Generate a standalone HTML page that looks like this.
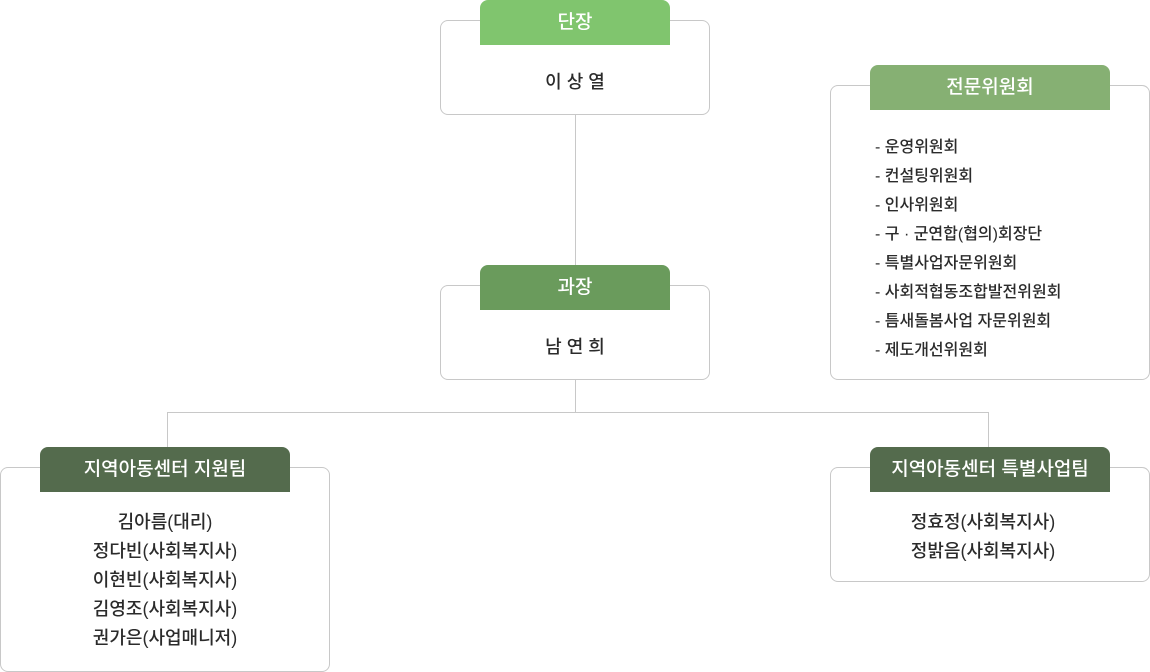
<!DOCTYPE html>
<html><head><meta charset="utf-8"><style>
body{margin:0;width:1150px;height:672px;background:#fff;position:relative;overflow:hidden;font-family:"Liberation Sans","Noto Sans CJK KR",sans-serif;color:#333;font-weight:500}
.box{position:absolute;border:1px solid #c8c8c8;border-radius:8px;box-sizing:border-box;background:#fff}
.tab{position:absolute;color:#fff;font-size:19px;text-align:center;line-height:45px;height:45px;border-radius:8px 8px 0 0;font-weight:500}
.ln{position:absolute;background:#c8c8c8}
.t{position:absolute;text-align:center;font-size:18px;color:#2b2b2b}
</style></head><body>
<div class="ln" style="left:575px;top:114px;width:1px;height:171px"></div>
<div class="ln" style="left:575px;top:379px;width:1px;height:34px"></div>
<div class="ln" style="left:167px;top:412px;width:822px;height:1px"></div>
<div class="ln" style="left:167px;top:412px;width:1px;height:40px"></div>
<div class="ln" style="left:988px;top:412px;width:1px;height:40px"></div>

<div class="box" style="left:440px;top:20px;width:270px;height:95px"></div>
<div class="tab" style="left:480px;top:0;width:190px;background:#80c56e">단장</div>
<div class="t" style="left:440px;top:70px;width:270px;line-height:24px">이 상 열</div>

<div class="box" style="left:440px;top:285px;width:270px;height:95px"></div>
<div class="tab" style="left:480px;top:265px;width:190px;background:#6a9b5c">과장</div>
<div class="t" style="left:440px;top:335px;width:270px;line-height:24px">남 연 희</div>

<div class="box" style="left:830px;top:85px;width:320px;height:295px"></div>
<div class="tab" style="left:870px;top:65px;width:240px;background:#86b073">전문위원회</div>
<div style="position:absolute;left:875px;top:133px;font-size:16px;line-height:29px;color:#2b2b2b">
- 운영위원회<br>- 컨설팅위원회<br>- 인사위원회<br>- 구 · 군연합(협의)회장단<br>- 특별사업자문위원회<br>- 사회적협동조합발전위원회<br>- 틈새돌봄사업 자문위원회<br>- 제도개선위원회</div>

<div class="box" style="left:0;top:467px;width:330px;height:205px"></div>
<div class="tab" style="left:40px;top:447px;width:250px;background:#546b4d">지역아동센터 지원팀</div>
<div class="t" style="left:0;top:508px;width:330px;line-height:29px">김아름(대리)<br>정다빈(사회복지사)<br>이현빈(사회복지사)<br>김영조(사회복지사)<br>권가은(사업매니저)</div>

<div class="box" style="left:830px;top:467px;width:320px;height:115px"></div>
<div class="tab" style="left:870px;top:447px;width:240px;background:#546b4d">지역아동센터 특별사업팀</div>
<div class="t" style="left:823px;top:508px;width:320px;line-height:29px">정효정(사회복지사)<br>정밝음(사회복지사)</div>
</body></html>
